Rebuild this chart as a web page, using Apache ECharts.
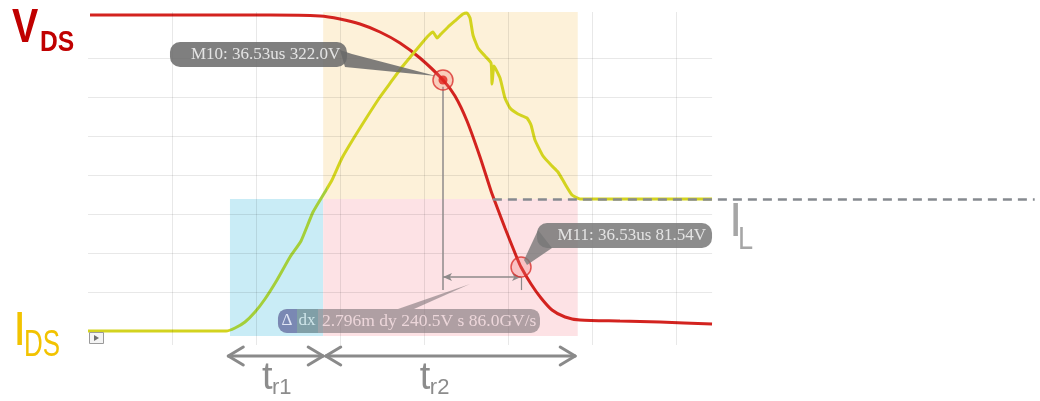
<!DOCTYPE html>
<html><head><meta charset="utf-8">
<script src="https://cdn.jsdelivr.net/npm/echarts@6/dist/echarts.min.js"></script>
<style>html,body{margin:0;padding:0;background:#fff}#c{width:1040px;height:401px}</style>
</head><body><div id="c"></div>
<script>
// Units: horizontal and vertical scope divisions
const vdsX = [0.024,1.095,2.167,2.762,3.000,3.238,3.476,3.714,3.952,4.226,4.369,4.512,4.667,4.798,4.869,4.964,5.107,5.155,5.274,5.393,5.524,5.679,5.857,6.333,6.810,7.429];
const vdsY = [8.103,8.103,8.103,8.077,8.000,7.872,7.667,7.385,7.000,6.436,6.026,5.385,4.462,3.590,3.179,2.641,1.872,1.641,1.205,0.846,0.538,0.359,0.282,0.256,0.231,0.179];
const idsX = [0,1.643,1.750,1.869,1.988,2.107,2.250,2.405,2.536,2.679,2.821,2.905,3.024,3.179,3.321,3.476,3.607,3.738,3.857,3.976,4.048,4.107,4.155,4.202,4.286,4.381,4.464,4.512,4.548,4.583,4.643,4.726,4.798,4.810,4.833,4.905,4.964,5.024,5.119,5.226,5.274,5.321,5.417,5.524,5.595,5.679,5.762,5.857,6.095,7.429];
const idsY = [0,0,0.077,0.231,0.487,0.821,1.308,1.897,2.308,3.051,3.564,3.872,4.436,5.000,5.487,6.000,6.385,6.769,7.077,7.385,7.564,7.667,7.513,7.615,7.795,7.974,8.128,8.154,8.026,7.590,7.256,7.051,6.872,6.333,6.795,6.487,5.974,5.718,5.564,5.462,5.282,4.897,4.487,4.231,4.077,3.769,3.487,3.385,3.385,3.385];
const gridXs = [1,2,3,4,5,6,7];
const gridYs = [1,2,3,4,5,6,7];
const frameX = [0, 7.43];
const frameY = [-0.36, 8.18];
const viewX = [-1.0476, 11.3333];
const viewY = [-1.7949, 8.4872];
const IL = 3.385;
const ilLineX = [4.82, 11.27];
const M10 = [4.226, 6.436];
const M11 = [5.155, 1.641];
const cursorY = [1.05, 6.26];
const deltaArrowY = 1.385;
const shadeBottom = -0.13;
const shadeTop = 8.18;
const tr1Range = [1.69, 2.80];
const tr2Range = [2.80, 5.83];
const tr1Arrow = [1.67, 2.80];
const tr2Arrow = [2.83, 5.80];
const trArrowY = -0.641;
const trLabelX = [2.07, 3.95];
const m10Text = 'M10: 36.53us 322.0V';
const m11Text = 'M11: 36.53us 81.54V';
const deltaText = '2.796m dy 240.5V s 86.0GV/s';

const YEL = '#d3d31f', GRN = '#a4cf3a', RED = '#d3231f';
const chart = echarts.init(document.getElementById('c'), null, {renderer:'canvas'});
const zip = (a,b) => a.map((v,i)=>[v,b[i]]);

const option = {
  animation:false,
  grid:{left:0,right:0,top:0,bottom:0},
  xAxis:{type:'value',min:viewX[0],max:viewX[1],show:false},
  yAxis:{type:'value',min:viewY[0],max:viewY[1],show:false},
  visualMap:{show:false,type:'piecewise',seriesIndex:3,dimension:0,
    pieces:[{lt:tr1Range[0],color:YEL},{gte:tr1Range[0],lte:tr1Range[1]+0.05,color:GRN},{gt:tr1Range[1]+0.05,color:YEL}]},
  series:[
    {type:'line',z:1,data:[],silent:true,showSymbol:false,
      markArea:{silent:true,data:[
        [{coord:[tr1Range[0],shadeBottom],itemStyle:{color:'#c9ecf6'}},{coord:[tr1Range[1],IL]}],
        [{coord:[tr2Range[0],IL],itemStyle:{color:'#fdf1d9'}},{coord:[tr2Range[1],shadeTop]}],
        [{coord:[tr2Range[0],shadeBottom],itemStyle:{color:'#fde2e5'}},{coord:[tr2Range[1],IL]}]
      ]}},
    {type:'line',z:2,data:[],silent:true,showSymbol:false,
      markLine:{silent:true,symbol:['none','none'],label:{show:false},
        lineStyle:{color:'rgba(0,0,0,0.09)',width:1,type:'solid'},
        data:[...gridXs.map(x=>[{coord:[x,frameY[0]]},{coord:[x,frameY[1]]}]),
              ...gridYs.map(y=>[{coord:[frameX[0],y]},{coord:[frameX[1],y]}])]}},
    {type:'line',z:3,data:zip(vdsX,vdsY),smooth:0.25,showSymbol:false,silent:true,
      lineStyle:{color:RED,width:3}},
    {type:'line',z:3,data:zip(idsX,idsY),smooth:0.15,showSymbol:false,silent:true,
      lineStyle:{width:3}},
    {type:'line',z:4,data:[],silent:true,showSymbol:false,
      markLine:{silent:true,symbol:['none','none'],label:{show:false},
        data:[
          [{coord:[ilLineX[0],IL],lineStyle:{color:'#868a90',width:2.5,type:[9,6]}},{coord:[ilLineX[1],IL]}],
          [{coord:[M10[0],cursorY[1]],lineStyle:{color:'#8e8a8a',width:1.5,type:'solid'}},{coord:[M10[0],cursorY[0]]}],
          [{coord:[M11[0],deltaArrowY],lineStyle:{color:'#8e8a8a',width:1.2,type:'solid'}},{coord:[M11[0],cursorY[0]]}],
          [{coord:[M10[0],deltaArrowY],symbol:'arrow',symbolSize:[6,9],lineStyle:{color:'#8e8a8a',width:1.5,type:'solid'}},
           {coord:[M11[0],deltaArrowY],symbol:'arrow',symbolSize:[6,9]}]
        ]}},
    {type:'scatter',z:5,silent:true,data:[M10,M11],symbolSize:20,
      itemStyle:{color:'rgba(240,110,110,0.35)',borderColor:'#d9302c',borderWidth:1.5}},
    {type:'scatter',z:6,silent:true,data:[M10],symbolSize:9,itemStyle:{color:'#e0201c'}}
  ]
};
chart.setOption(option);

const P = p => chart.convertToPixel({xAxisIndex:0,yAxisIndex:0},p);
const p10 = P(M10), p11 = P(M11), pa = P([M10[0],deltaArrowY]);
const serif = '17px "Liberation Serif", "DejaVu Serif", serif';
const g = [];
// M10 label
g.push({type:'polygon',z:20,shape:{points:[[p10[0]-103,p10[1]-30],[p10[0]-91,p10[1]-26],[p10[0]-7,p10[1]-4],[p10[0]-98,p10[1]-13]]},style:{fill:'rgba(105,105,105,0.85)'}});
g.push({type:'rect',z:20,shape:{x:p10[0]-273,y:p10[1]-38,width:177,height:25,r:10},style:{fill:'rgba(105,105,105,0.85)'}});
g.push({type:'text',z:21,x:p10[0]-252,y:p10[1]-25.5,style:{text:m10Text,font:serif,fill:'#e4e4e4',verticalAlign:'middle'}});
// M11 label
g.push({type:'polygon',z:20,shape:{points:[[p11[0]+17,p11[1]-37],[p11[0]+31,p11[1]-19],[p11[0]+6,p11[1]-2],[p11[0]+3,p11[1]-7]]},style:{fill:'rgba(120,120,120,0.8)'}});
g.push({type:'rect',z:20,shape:{x:p11[0]+16,y:p11[1]-44,width:175,height:25,r:10},style:{fill:'rgba(120,120,120,0.85)'}});
g.push({type:'text',z:21,x:p11[0]+185,y:p11[1]-31.5,style:{text:m11Text,font:serif,fill:'#e4e4e4',align:'right',verticalAlign:'middle'}});
// Delta label
g.push({type:'polygon',z:20,shape:{points:[[pa[0]-45,pa[1]+32],[pa[0]-29,pa[1]+32],[pa[0]+27,pa[1]+7]]},style:{fill:'rgba(128,118,122,0.6)'}});
g.push({type:'rect',z:20,shape:{x:pa[0]-165,y:pa[1]+32,width:262,height:24,r:9},style:{fill:'rgba(128,118,122,0.62)'}});
g.push({type:'rect',z:21,shape:{x:pa[0]-165,y:pa[1]+32,width:19,height:24,r:[9,0,0,9]},style:{fill:'rgba(95,115,185,0.55)'}});
g.push({type:'rect',z:21,shape:{x:pa[0]-146,y:pa[1]+32,width:21,height:24},style:{fill:'rgba(95,155,165,0.45)'}});
g.push({type:'text',z:22,x:pa[0]-156,y:pa[1]+44,style:{text:'Δ',font:serif,fill:'#dfe4f4',align:'center',verticalAlign:'middle'}});
g.push({type:'text',z:22,x:pa[0]-136,y:pa[1]+44,style:{text:'dx',font:serif,fill:'#cfe6ea',align:'center',verticalAlign:'middle'}});
g.push({type:'text',z:22,x:pa[0]-121,y:pa[1]+44,style:{text:deltaText,font:'17.5px "Liberation Serif", serif',fill:'#ecd6da',verticalAlign:'middle'}});
// scope run icon
g.push({type:'rect',z:20,shape:{x:89.5,y:332.5,width:14,height:11},style:{fill:'#f4f4f4',stroke:'#9a9a9a',lineWidth:1}});
g.push({type:'polygon',z:21,shape:{points:[[94,335],[94,341],[99,338]]},style:{fill:'#707070'}});
// tr arrows
const arrow = (xr) => {
  const a = P([xr[0],trArrowY]), b = P([xr[1],trArrowY]);
  const st = {stroke:'#8a8a8a',lineWidth:3,fill:null,lineCap:'round',lineJoin:'round'};
  g.push({type:'line',z:20,shape:{x1:a[0],y1:a[1],x2:b[0],y2:b[1]},style:st});
  g.push({type:'polyline',z:20,shape:{points:[[a[0]+15,a[1]-9],[a[0],a[1]],[a[0]+15,a[1]+9]]},style:st});
  g.push({type:'polyline',z:20,shape:{points:[[b[0]-15,b[1]-9],[b[0],b[1]],[b[0]-15,b[1]+9]]},style:st});
};
arrow(tr1Arrow); arrow(tr2Arrow);
const sans = (w,s) => `${w} ${s}px "Liberation Sans", Arial, sans-serif`;
const trLbl = (xd, sub) => {
  const p = P([xd, trArrowY]);
  g.push({type:'text',z:20,x:p[0],y:p[1]+4,style:{text:'t',font:sans('normal',38),fill:'#8c8c8c',verticalAlign:'top'}});
  g.push({type:'text',z:20,x:p[0]+10,y:p[1]+21,style:{text:sub,font:sans('normal',22),fill:'#8c8c8c',verticalAlign:'top'}});
};
trLbl(trLabelX[0],'r1'); trLbl(trLabelX[1],'r2');
// I_L label next to dashed line
const pil = P([frameX[1], IL]);
g.push({type:'text',z:20,x:pil[0]+17,y:pil[1],style:{text:'I',font:sans('normal',48),fill:'#a6a6a6',verticalAlign:'top'}});
g.push({type:'text',z:20,x:pil[0]+26,y:pil[1]+25,scaleX:0.85,style:{text:'L',font:sans('normal',32),fill:'#a6a6a6',verticalAlign:'top'}});
// V_DS and I_DS
g.push({type:'text',z:20,x:12,y:5,scaleX:0.82,style:{text:'V',font:sans('bold',48),fill:'#c00000',verticalAlign:'top'}});
g.push({type:'text',z:20,x:40,y:28,scaleX:0.82,style:{text:'DS',font:sans('bold',30),fill:'#c00000',verticalAlign:'top'}});
g.push({type:'text',z:20,x:13,y:308,style:{text:'I',font:sans('normal',48),fill:'#f2c300',verticalAlign:'top'}});
g.push({type:'text',z:20,x:24,y:328,scaleX:0.72,style:{text:'DS',font:sans('normal',36),fill:'#f2c300',verticalAlign:'top'}});
chart.setOption({graphic:{elements:g}});
</script></body></html>
